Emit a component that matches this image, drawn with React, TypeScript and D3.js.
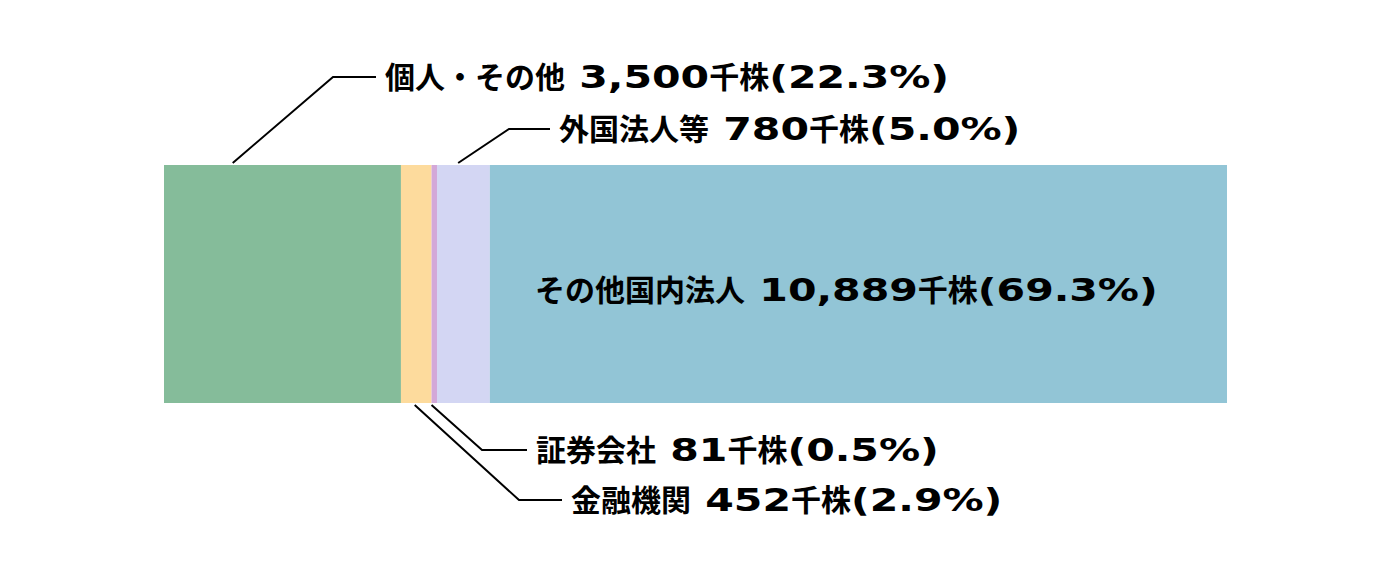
import React, { useEffect, useRef } from 'react';
import * as d3 from 'd3';

const categories = ['個人・その他', '金融機関', '証券会社', '外国法人等', 'その他国内法人'];
const shares = [3500, 452, 81, 780, 10889]; // 千株
const percents = ['22.3', '2.9', '0.5', '5.0', '69.3'];
const colors = ['#85bc9a', '#fddb9d', '#d3a8d8', '#d3d6f3', '#92c5d6'];

// leader placement: where the line leaves the bar (fraction of segment), elbow and label
const leaders = [
  { i: 0, frac: 0.29, side: 'top', elbowX: 333, y: 77, textX: 385 },
  { i: 3, frac: 0.4, side: 'top', elbowX: 509, y: 129, textX: 559 },
  { i: 2, frac: 0.0, side: 'bottom', elbowX: 482, y: 450, textX: 536 },
  { i: 1, frac: 0.45, side: 'bottom', elbowX: 519, y: 500, textX: 571 },
];

const CJK_FONT = '"Noto Sans CJK JP", sans-serif';
const LATIN_FONT = '"DejaVu Sans", sans-serif';
const FONT_SIZE = 30;
const LATIN_SIZE = 31.6;
const LATIN_SCALE = 1.3;

// lays out a label made of CJK runs and wide latin runs, returns its width
function drawLabel(parent: any, x: number, y: number, str: string, anchor: 'start' | 'middle') {
  const g = parent.append('g');
  const runs = str.match(/[\u3000-\u30ff\u4e00-\u9fff]+|[^\u3000-\u30ff\u4e00-\u9fff]+/g) || [];
  let cx = 0;
  runs.forEach((r: string) => {
    const cjk = /[\u3000-\u30ff\u4e00-\u9fff]/.test(r);
    const t = g.append('text')
      .attr('dy', cjk ? '0.36em' : '0.35em')
      .attr('font-family', cjk ? CJK_FONT : LATIN_FONT)
      .attr('font-weight', 700)
      .attr('font-size', cjk ? FONT_SIZE : LATIN_SIZE)
      .attr('fill', '#000')
      .style('white-space', 'pre')
      .attr('xml:space', 'preserve')
      .text(r);
    const sx = cjk ? 1 : LATIN_SCALE;
    t.attr('transform', `translate(${cx},0) scale(${sx},1)`);
    cx += (t.node() as SVGTextElement).getComputedTextLength() * sx;
  });
  const x0 = anchor === 'middle' ? x - cx / 2 : x;
  g.attr('transform', `translate(${x0},${y})`);
  return cx;
}

export default function App() {
  const ref = useRef<SVGSVGElement | null>(null);

  useEffect(() => {
    const svg = d3.select(ref.current);
    svg.selectAll('*').remove();

    const W = 1391, H = 583;
    const barTop = 165, barBottom = 403;
    const total = d3.sum(shares);
    const x = d3.scaleLinear().domain([0, total]).range([164, 1227]);

    const starts = d3.cumsum([0, ...shares.slice(0, -1)]);
    const segs = shares.map((v, i) => ({ v, i, x0: x(starts[i]), x1: x(starts[i] + v) }));

    svg.attr('viewBox', `0 0 ${W} ${H}`);

    svg.append('g').selectAll('rect').data(segs).join('rect')
      .attr('x', d => d.x0)
      .attr('y', barTop)
      .attr('width', d => d.x1 - d.x0)
      .attr('height', barBottom - barTop)
      .attr('fill', d => colors[d.i]);

    const label = (i: number) =>
      `${categories[i]} ${d3.format(',')(shares[i])}千株(${percents[i]}%)`;

    leaders.forEach(l => {
      const s = segs[l.i];
      const sx = s.x0 + (s.x1 - s.x0) * l.frac;
      const sy = l.side === 'top' ? barTop - 2 : barBottom + 2;
      svg.append('polyline')
        .attr('points', `${sx},${sy} ${l.elbowX},${l.y} ${l.textX - 9},${l.y}`)
        .attr('fill', 'none')
        .attr('stroke', '#000')
        .attr('stroke-width', 2);
      drawLabel(svg, l.textX, l.y, label(l.i), 'start');
    });

    // label inside the largest segment
    const big = segs[4];
    drawLabel(svg, (big.x0 + big.x1) / 2 - 12, (barTop + barBottom) / 2 + 6, label(4), 'middle');
  }, []);

  return <svg ref={ref} width={1391} height={583} style={{ display: 'block', position: 'absolute', left: 0, top: 0, background: '#fff' }} />;
}
